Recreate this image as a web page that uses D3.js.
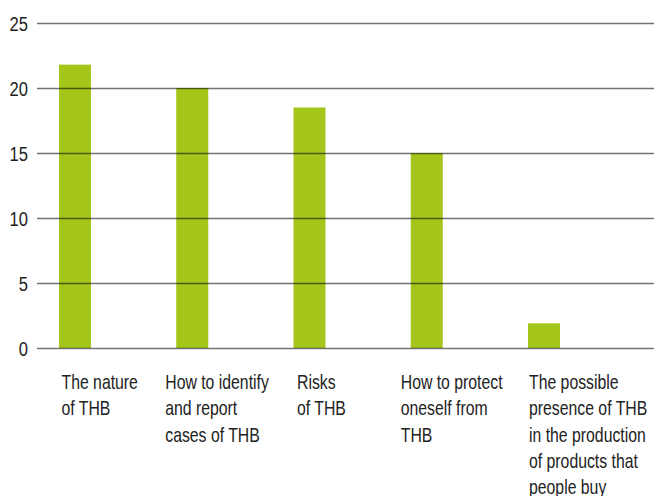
<!DOCTYPE html>
<html>
<head>
<meta charset="utf-8">
<script src="https://cdn.jsdelivr.net/npm/d3@7"></script>
<style>
  body { margin: 0; background: #fff; }
  svg { display: block; }
  text { font-family: "Liberation Sans", Arial, sans-serif; fill: #222; }
</style>
</head>
<body>
<svg width="654" height="496"></svg>
<script>
// data
const categories = [
  'The nature of THB',
  'How to identify and report cases of THB',
  'Risks of THB',
  'How to protect oneself from THB',
  'The possible presence of THB in the production of products that people buy'
];
const values = [21.8, 20, 18.5, 15, 1.9];
const labelLines = [
  ['The nature', 'of THB'],
  ['How to identify', 'and report', 'cases of THB'],
  ['Risks', 'of THB'],
  ['How to protect', 'oneself from', 'THB'],
  ['The possible', 'presence of THB', 'in the production', 'of products that', 'people buy']
];
const yTicks = [0, 5, 10, 15, 20, 25];

// layout
const svg = d3.select('svg');
const svgWidth = +svg.attr('width');
const plot = { left: 37, right: svgWidth, top: 23, bottom: 348 };
const barWidth = 32;
const labelShift = [-13.5, -27, -12.5, -26, -15]; // label boxes sit a bit left of bar centres
const barColor = '#a4c51a';
const narrow = 0.79; // no condensed face installed, so squeeze Liberation Sans

const xScale = d3.scalePoint()
  .domain(categories)
  .range([75, 544]);

const yScale = d3.scaleLinear()
  .domain([0, 25])
  .range([plot.bottom, plot.top]);

// bars
svg.append('g')
  .attr('class', 'bars')
  .selectAll('rect')
  .data(categories)
  .enter()
  .append('rect')
    .attr('x', d => xScale(d) - barWidth / 2)
    .attr('y', (d, i) => yScale(values[i]))
    .attr('width', barWidth)
    .attr('height', (d, i) => yScale(0) - yScale(values[i]))
    .attr('fill', barColor);

// gridlines drawn over the bars, semi transparent
const yAxis = d3.axisLeft(yScale)
  .tickValues(yTicks)
  .tickSize(-(plot.right - plot.left));
const yAxisGroup = svg.append('g')
  .attr('class', 'axis y-axis')
  .attr('transform', `translate(${plot.left}, 0)`)
  .call(yAxis);
yAxisGroup.select('path.domain').remove();
yAxisGroup.selectAll('.tick line')
  .attr('stroke', '#000')
  .attr('stroke-opacity', 0.55)
  .attr('stroke-width', 1.4);
yAxisGroup.selectAll('.tick text')
  .attr('x', 0)
  .attr('dy', '0.36em')
  .attr('transform', `translate(-9, 0) scale(${narrow}, 1)`)
  .attr('font-size', 21)
  .attr('fill', '#222');

// category labels
const labelGroup = svg.append('g').attr('class', 'x-labels');
categories.forEach((cat, i) => {
  const t = labelGroup.append('text')
    .attr('transform', `translate(${xScale(cat) + labelShift[i]}, 389) scale(${narrow}, 1)`)
    .attr('font-size', 20);
  labelLines[i].forEach((line, j) => {
    t.append('tspan')
      .attr('x', 0)
      .attr('dy', j === 0 ? 0 : 26.3)
      .text(line);
  });
});
</script>
</body>
</html>
